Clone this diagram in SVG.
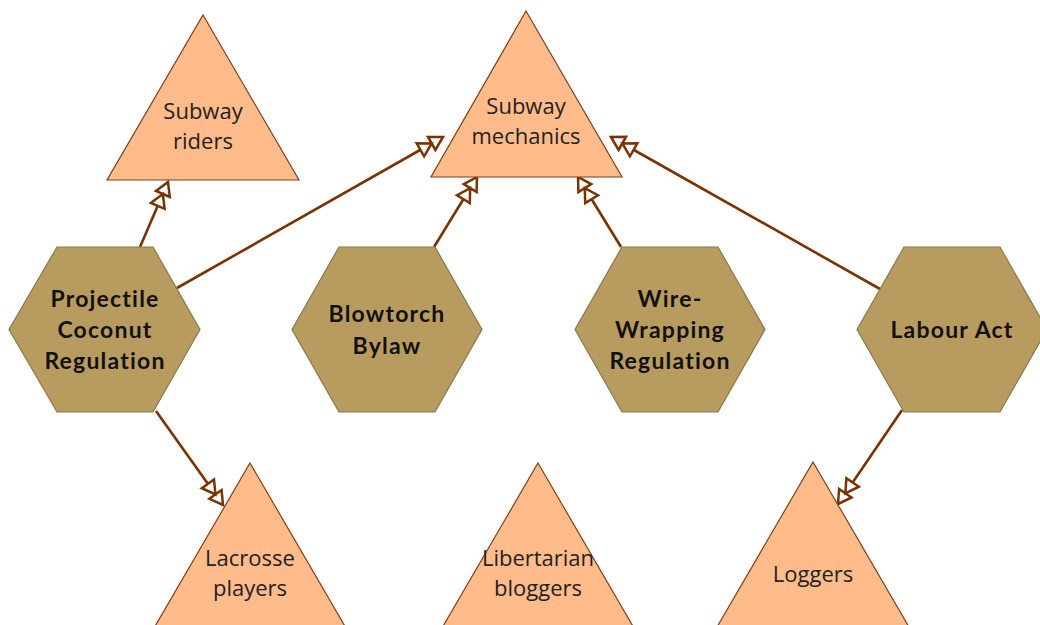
<svg xmlns="http://www.w3.org/2000/svg" width="1040" height="625" viewBox="0 0 1040 625">
  <style>
    .tri { fill: #FFBB8A; stroke: #7F3F18; stroke-width: 1.2; }
    .hex { fill: #B89C5F; stroke: #8A7848; stroke-width: 1.2; }
    .tt { font-family: "Open Sans", "Liberation Sans", sans-serif; font-size: 22px; fill: #222; text-anchor: middle; }
    .ht { font-family: "Lato", "Liberation Sans", sans-serif; font-weight: 700; font-size: 23px; fill: #111; text-anchor: middle; letter-spacing: 1.2px; }
    .edge { stroke: #7A3300; stroke-width: 2.6; fill: none; marker-end: url(#dbl); }
  </style>
  <defs>
    <!-- two hollow triangles stacked at the end of each connector -->
    <marker id="dbl" markerUnits="userSpaceOnUse" markerWidth="32" markerHeight="22" refX="28" refY="11" orient="auto" overflow="visible">
      <path d="M28,11 L15,3.5 L15,18.5 Z M15,11 L2,3.5 L2,18.5 Z" fill="#fff" stroke="#7A3300" stroke-width="2.5" stroke-linejoin="miter"/>
    </marker>
  </defs>

  <g id="connectors">
    <line class="edge" x1="140" y1="247" x2="168" y2="182"/>
    <line class="edge" x1="177" y1="288" x2="443" y2="137"/>
    <line class="edge" x1="434" y1="247" x2="477" y2="177"/>
    <line class="edge" x1="621" y1="247" x2="578" y2="177"/>
    <line class="edge" x1="880" y1="289" x2="611" y2="137"/>
    <line class="edge" x1="156" y1="411" x2="223" y2="505"/>
    <line class="edge" x1="902" y1="410" x2="838" y2="504"/>
  </g>

  <g id="subway-riders">
    <polygon class="tri" points="203,15 299,180 107,180"/>
    <text class="tt" x="203" y="119">Subway</text>
    <text class="tt" x="203" y="149">riders</text>
  </g>
  <g id="subway-mechanics">
    <polygon class="tri" points="526,11 622,177 431,177"/>
    <text class="tt" x="526" y="114">Subway</text>
    <text class="tt" x="526" y="144">mechanics</text>
  </g>
  <g id="lacrosse-players">
    <polygon class="tri" points="250,463 346,628 154,628"/>
    <text class="tt" x="250" y="566">Lacrosse</text>
    <text class="tt" x="250" y="596">players</text>
  </g>
  <g id="libertarian-bloggers">
    <polygon class="tri" points="538,463 634,628 442,628"/>
    <text class="tt" x="538" y="566">Libertarian</text>
    <text class="tt" x="538" y="596">bloggers</text>
  </g>
  <g id="loggers">
    <polygon class="tri" points="813,462 909,627 717,627"/>
    <text class="tt" x="813" y="582">Loggers</text>
  </g>

  <g id="projectile-coconut-regulation">
    <polygon class="hex" points="57,247 153,247 200,329.5 153,412 57,412 9,329.5"/>
    <text class="ht" x="105" y="307">Projectile</text>
    <text class="ht" x="105" y="338">Coconut</text>
    <text class="ht" x="105" y="369">Regulation</text>
  </g>
  <g id="blowtorch-bylaw">
    <polygon class="hex" points="339,247 435,247 482,329.5 435,412 339,412 292,329.5"/>
    <text class="ht" x="387" y="322">Blowtorch</text>
    <text class="ht" x="387" y="354">Bylaw</text>
  </g>
  <g id="wire-wrapping-regulation">
    <polygon class="hex" points="622,247 718,247 765,329.5 718,412 622,412 575,329.5"/>
    <text class="ht" x="670" y="307">Wire-</text>
    <text class="ht" x="670" y="338">Wrapping</text>
    <text class="ht" x="670" y="369">Regulation</text>
  </g>
  <g id="labour-act">
    <polygon class="hex" points="904,247 1000,247 1047,329.5 1000,412 904,412 857,329.5"/>
    <text class="ht" x="952" y="338">Labour Act</text>
  </g>
</svg>
